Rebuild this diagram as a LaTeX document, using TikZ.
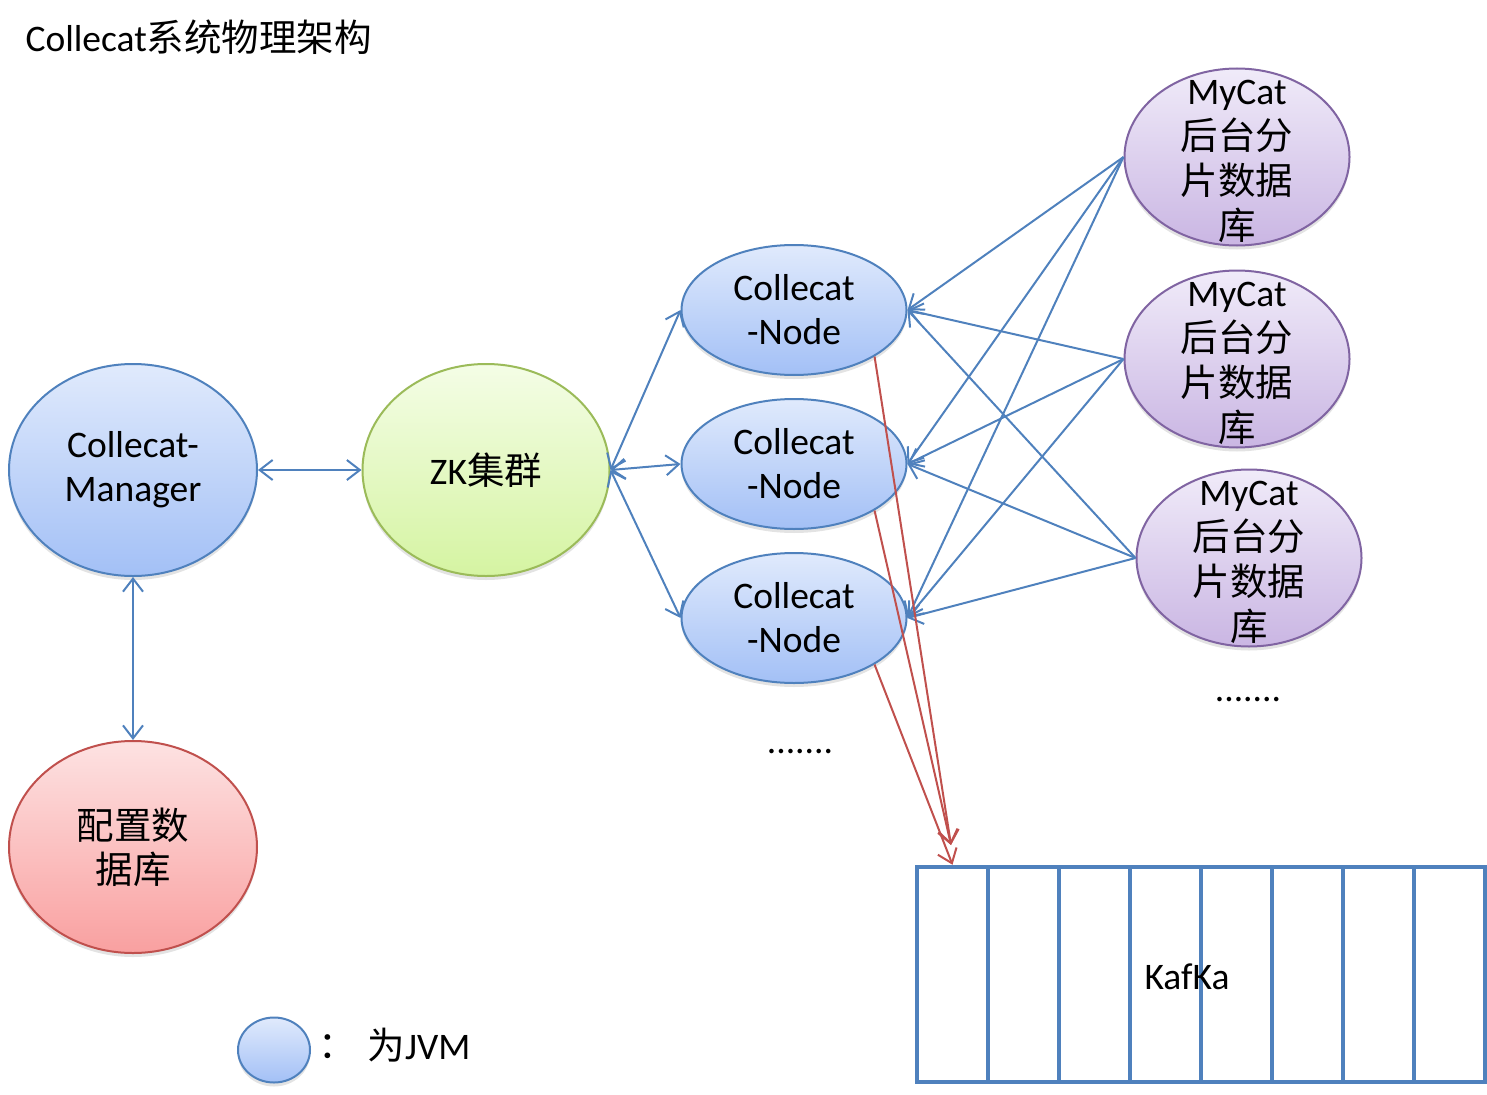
\documentclass[tikz,border=0pt]{standalone}
\usepackage{fontspec}
\setmainfont{Carlito}
\newfontfamily\cjk{Noto Sans CJK SC}
\usepackage{tikz}
\usetikzlibrary{positioning,shapes.geometric,arrows.meta,shadows}

\definecolor{lineblue}{HTML}{4F81BD}
\definecolor{jvmtop}{HTML}{E0EAFC}
\definecolor{jvmbot}{HTML}{A3C0F6}
\definecolor{zkline}{HTML}{9BBB59}
\definecolor{zktop}{HTML}{F4FDE6}
\definecolor{zkbot}{HTML}{D5F4A2}
\definecolor{dbline}{HTML}{C0504D}
\definecolor{dbtop}{HTML}{FDE2E2}
\definecolor{dbbot}{HTML}{F9A0A0}
\definecolor{mcline}{HTML}{8064A2}
\definecolor{mctop}{HTML}{F0EBF9}
\definecolor{mcbot}{HTML}{CAB6E3}

\begin{document}
\begin{tikzpicture}[x=1pt,y=-1pt,
    font=\fontsize{37.5}{44}\selectfont,
    oval/.style={ellipse, line width=2pt, inner sep=0pt, align=center,
        drop shadow={shadow xshift=0pt, shadow yshift=-4pt, opacity=0.22}},
    jvmnode/.style={oval, draw=lineblue, top color=jvmtop, bottom color=jvmbot},
    zknode/.style={oval, draw=zkline, top color=zktop, bottom color=zkbot},
    dbnode/.style={oval, draw=dbline, top color=dbtop, bottom color=dbbot},
    mcnode/.style={oval, draw=mcline, top color=mctop, bottom color=mcbot,
        minimum width=225pt, minimum height=177pt},
    mctext/.style={align=center, inner sep=0pt, font=\fontsize{37.5}{45}\selectfont},
    kafkabox/.style={rectangle, draw=lineblue, line width=4.5pt, minimum width=71pt,
        minimum height=215pt, inner sep=0pt},
    link/.style={draw=lineblue, line width=2pt},
    both/.style={link, {Straight Barb[length=13pt,width=20pt]}-{Straight Barb[length=13pt,width=20pt]}},
    tonode/.style={link, -{Straight Barb[length=13pt,width=20pt]}},
    tokafka/.style={draw=dbline, line width=2pt, -{Straight Barb[length=13pt,width=20pt]}}]

    \useasboundingbox (0,0) rectangle (1487,1094);

    \node[anchor=base west] (title) at (22,52) {Collecat{\cjk 系统物理架构}};

    % left side
    \node[jvmnode, minimum width=248pt, minimum height=212pt] (mgr) at (133,470) {Collecat-\\Manager};
    \node[zknode, minimum width=247pt, minimum height=212pt] (zk) at (486,470) {ZK{\cjk 集群}};
    \node[dbnode, minimum width=248pt, minimum height=212pt] (cfg) at (133,847) {{\cjk 配置数}\\{\cjk 据库}};

    % collecat nodes
    \node[jvmnode, minimum width=225pt, minimum height=130pt] (n1) at (794,310) {Collecat\\-Node};
    \node[jvmnode, minimum width=225pt, minimum height=130pt] (n2) at (794,464) {Collecat\\-Node};
    \node[jvmnode, minimum width=225pt, minimum height=130pt] (n3) at (794,618) {Collecat\\-Node};
    \node (ndots) at (800,752) {.......};

    % mycat backends
    \node[mcnode] (m1) at (1237,157) {};
    \node[mcnode] (m2) at (1237,359) {};
    \node[mcnode] (m3) at (1249,558) {};
    \foreach \m in {m1,m2,m3}
        \node[mctext] (\m t) at ([yshift=-4pt]\m.center) {MyCat\\{\cjk 后台分}\\{\cjk 片数据}\\{\cjk 库}};
    \node (mdots) at (1248,700) {.......};

    % kafka
    \foreach \i in {1,...,8}
        \node[kafkabox] (k\i) at ({952.5+71*(\i-1)},974.5) {};
    \node (kafka) at (1187,977) {KafKa};

    % legend
    \node[jvmnode, minimum width=72pt, minimum height=65pt] (leg) at (274,1050) {};
    \node (colon) at (337,1047) {{\cjk ：}};
    \node[anchor=west] (legtext) at (364,1045) {{\cjk 为}JVM};

    % connectors
    \draw[both] (mgr) -- (zk);
    \draw[both] (mgr) -- (cfg);
    \foreach \n in {n1,n2,n3}
        \draw[both] (zk.east) -- (\n.west);
    \foreach \m in {m1,m2,m3}
        \foreach \n in {n1,n2,n3}
            \draw[tonode] (\m.west) -- (\n.east);

    \coordinate (kin) at (951,845);
    \draw[tokafka] (n1.-30) -- (kin);
    \draw[tokafka] (n2.-30) -- (kin);
    \draw[tokafka] (n3.-30) -- (k1.north);

\end{tikzpicture}
\end{document}
